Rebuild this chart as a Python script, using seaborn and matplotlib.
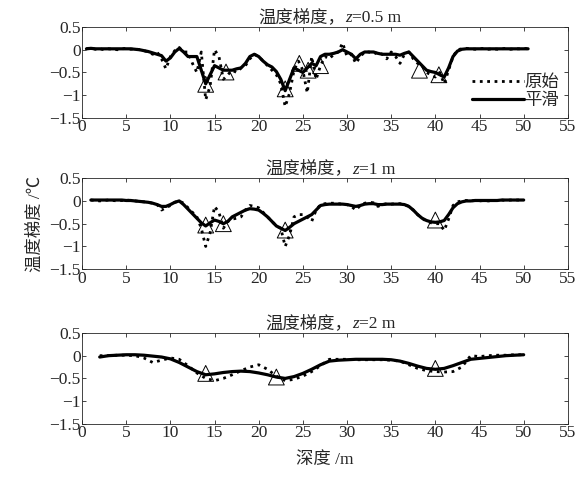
import numpy as np
import pandas as pd
import seaborn as sns
from matplotlib import pyplot as plt

# depth grids (m)
depth_1 = np.arange(0.5, 50.75, 0.5)
depth_2 = np.arange(1.0, 50.25, 0.5)
depth_3 = np.arange(2.0, 50.5, 1.0)

# z = 0.5 m
raw_1 = [0.02, 0.04, 0.01, 0.02, 0.00, 0.02, 0.01, 0.00, 0.02, 0.03,
         0.01, 0.02, 0.00, -0.02, -0.05, -0.10, -0.05, -0.20, -0.42, -0.15,
         -0.02, 0.05, -0.05, -0.05, -0.30, -0.50, -0.05, -1.10, -0.80, 0.00,
         -0.15, -0.65, -0.55, -0.45, -0.50, -0.40, -0.35, -0.20, -0.10, -0.15,
         -0.25, -0.35, -0.45, -0.55, -0.75, -1.25, -0.95, -0.45, -0.25, -0.45,
         -0.95, -0.15, -0.65, -0.35, -0.15, -0.20, -0.10, -0.05, 0.15, -0.15,
         -0.10, -0.30, -0.15, -0.05, -0.05, -0.10, -0.05, -0.10, -0.20, -0.05,
         -0.15, -0.30, -0.10, -0.05, -0.20, -0.30, -0.35, -0.50, -0.55, -0.60,
         -0.50, -0.75, -0.45, -0.15, 0.00, 0.02, 0.03, 0.02, 0.01, 0.02,
         0.03, 0.01, 0.02, 0.01, 0.02, 0.03, 0.01, 0.02, 0.02, 0.03,
         0.02]
smooth_1 = [0.02, 0.03, 0.02, 0.02, 0.02, 0.02, 0.02, 0.02, 0.02, 0.02,
            0.02, 0.01, 0.00, -0.02, -0.04, -0.07, -0.10, -0.13, -0.25, -0.18,
            -0.05, 0.03, -0.05, -0.15, -0.15, -0.15, -0.45, -0.75, -0.55, -0.35,
            -0.40, -0.45, -0.45, -0.45, -0.42, -0.40, -0.30, -0.15, -0.10, -0.15,
            -0.25, -0.33, -0.38, -0.48, -0.65, -0.90, -0.65, -0.40, -0.45, -0.50,
            -0.40, -0.30, -0.35, -0.15, -0.10, -0.10, -0.08, -0.05, 0.00, -0.05,
            -0.10, -0.20, -0.10, -0.05, -0.05, -0.05, -0.08, -0.10, -0.10, -0.10,
            -0.10, -0.12, -0.08, -0.05, -0.15, -0.25, -0.35, -0.45, -0.48, -0.50,
            -0.55, -0.60, -0.40, -0.15, -0.03, 0.01, 0.02, 0.02, 0.02, 0.02,
            0.02, 0.02, 0.02, 0.02, 0.02, 0.02, 0.02, 0.02, 0.02, 0.02,
            0.02]
peak_x_1 = [14, 16.3, 23, 24.6, 25.6, 27, 38.2, 40.4]
peak_y_1 = [-0.76, -0.49, -0.86, -0.30, -0.45, -0.35, -0.45, -0.55]

# z = 1 m
raw_2 = [0.02, 0.01, 0.00, 0.01, 0.02, 0.01, 0.00, 0.01, 0.02, 0.01,
         0.00, -0.01, -0.02, -0.03, -0.05, -0.08, -0.20, -0.15, -0.10, -0.03,
         0.00, -0.05, -0.15, -0.25, -0.35, -0.60, -1.00, -0.70, -0.12, -0.25,
         -0.60, -0.45, -0.40, -0.38, -0.35, -0.20, -0.10, -0.12, -0.15, -0.25,
         -0.35, -0.45, -0.55, -0.60, -1.00, -0.75, -0.35, -0.30, -0.30, -0.35,
         -0.45, -0.20, -0.08, -0.06, -0.05, -0.05, -0.06, -0.07, -0.08, -0.12,
         -0.20, -0.10, -0.05, -0.03, -0.04, -0.12, -0.08, -0.06, -0.07, -0.06,
         -0.06, -0.08, -0.12, -0.20, -0.30, -0.38, -0.45, -0.48, -0.50, -0.50,
         -0.65, -0.40, -0.10, -0.02, 0.00, 0.01, 0.00, 0.01, 0.00, 0.01,
         0.00, 0.01, 0.01, 0.02, 0.01, 0.02, 0.02, 0.02, 0.02]
smooth_2 = [0.02, 0.02, 0.02, 0.02, 0.02, 0.02, 0.02, 0.02, 0.01, 0.01,
            0.00, -0.01, -0.02, -0.03, -0.05, -0.08, -0.12, -0.12, -0.08, -0.03,
            0.00, -0.08, -0.18, -0.28, -0.38, -0.48, -0.55, -0.48, -0.42, -0.45,
            -0.50, -0.45, -0.35, -0.30, -0.25, -0.20, -0.17, -0.18, -0.20, -0.27,
            -0.35, -0.45, -0.55, -0.60, -0.65, -0.58, -0.50, -0.45, -0.40, -0.35,
            -0.30, -0.20, -0.10, -0.08, -0.07, -0.07, -0.07, -0.07, -0.08, -0.10,
            -0.12, -0.10, -0.07, -0.06, -0.06, -0.08, -0.08, -0.07, -0.07, -0.07,
            -0.07, -0.08, -0.12, -0.20, -0.30, -0.38, -0.43, -0.46, -0.47, -0.46,
            -0.43, -0.30, -0.15, -0.06, -0.02, 0.00, 0.00, 0.01, 0.01, 0.01,
            0.01, 0.01, 0.01, 0.02, 0.02, 0.02, 0.02, 0.02, 0.02]
peak_x_2 = [14, 16, 23, 40]
peak_y_2 = [-0.53, -0.50, -0.64, -0.42]

# z = 2 m
raw_3 = [0.00, 0.00, 0.01, 0.01, 0.00, -0.05, -0.15, -0.10, -0.05, -0.08,
         -0.22, -0.38, -0.50, -0.55, -0.50, -0.42, -0.33, -0.25, -0.20, -0.30,
         -0.45, -0.55, -0.52, -0.45, -0.35, -0.22, -0.08, -0.08, -0.08, -0.09,
         -0.09, -0.09, -0.09, -0.10, -0.12, -0.20, -0.28, -0.33, -0.35, -0.36,
         -0.35, -0.25, 0.00, -0.02, 0.00, 0.01, 0.01, 0.02, 0.02]
smooth_3 = [-0.03, 0.00, 0.01, 0.02, 0.02, 0.01, -0.01, -0.03, -0.07, -0.15,
            -0.25, -0.35, -0.42, -0.40, -0.37, -0.35, -0.34, -0.35, -0.38, -0.42,
            -0.47, -0.50, -0.46, -0.39, -0.30, -0.20, -0.12, -0.10, -0.09, -0.08,
            -0.08, -0.08, -0.08, -0.09, -0.12, -0.17, -0.23, -0.28, -0.30, -0.28,
            -0.22, -0.15, -0.08, -0.06, -0.04, -0.02, 0.00, 0.01, 0.02]
peak_x_3 = [14, 22, 40]
peak_y_3 = [-0.39, -0.47, -0.28]

titles = ["0.5", "1", "2"]

sns.set_style("ticks")
plt.rcParams['font.family'] = ['Liberation Serif', 'Noto Sans CJK SC']
plt.rcParams['xtick.direction'] = 'in'
plt.rcParams['ytick.direction'] = 'in'

fs = 12.5
fig = plt.figure(figsize=(5.86, 4.79), dpi=100)
boxes = [[0.140, 0.7537, 0.829, 0.19],
         [0.140, 0.438, 0.829, 0.19],
         [0.140, 0.115, 0.829, 0.19]]

panels = [(depth_1, raw_1, smooth_1, peak_x_1, peak_y_1),
          (depth_2, raw_2, smooth_2, peak_x_2, peak_y_2),
          (depth_3, raw_3, smooth_3, peak_x_3, peak_y_3)]

title_parts = []
for i, (d, raw, smo, px, py) in enumerate(panels):
    ax = fig.add_axes(boxes[i])
    df = pd.DataFrame({'depth': d, 'raw': raw, 'smooth': smo})
    sns.lineplot(x='depth', y='raw', data=df, ax=ax, color='black', linestyle=':',
                 linewidth=2.0, sort=False, estimator=None, label='原始')
    sns.lineplot(x='depth', y='smooth', data=df, ax=ax, color='black', linestyle='-',
                 linewidth=2.3, sort=False, estimator=None, label='平滑')
    sns.scatterplot(x=px, y=py, ax=ax, marker='^', s=130, facecolors='none',
                    edgecolors='black', linewidth=0.7, zorder=3)
    ax.set_xlim(0, 55)
    ax.set_ylim(-1.5, 0.5)
    ax.set_xticks(range(0, 56, 5))
    ax.set_yticks([-1.5, -1, -0.5, 0, 0.5])
    ax.set_yticklabels(['−1.5', '−1', '−0.5', '0', '0.5'])
    ax.tick_params(top=True, right=True, labelsize=fs, length=3, width=0.6, pad=1)
    for sp in ax.spines.values():
        sp.set_linewidth(0.6)
    ax.set_xlabel('')
    ax.set_ylabel('')

    # title: 温度梯度，z=... m  (z in italic)
    t1 = ax.text(0.5, 1.05, '温度梯度，', transform=ax.transAxes, fontsize=fs,
                 ha='left', va='baseline')
    t2 = ax.annotate('z', xy=(1, 0), xycoords=t1, fontsize=fs, style='italic',
                     ha='left', va='bottom')
    t3 = ax.annotate('=' + titles[i] + ' m', xy=(1, 0), xycoords=t2, fontsize=fs,
                     ha='left', va='bottom')
    title_parts.append((ax, t1, t3))

    if i == 0:
        ax.legend(loc='lower right', frameon=False, fontsize=fs, handlelength=3.0,
                  handletextpad=0.0, labelspacing=0.1, borderaxespad=0.1)
    else:
        ax.get_legend().remove()
    if i == 1:
        ax.set_ylabel('温度梯度 /℃', fontsize=fs, labelpad=4)
    if i == 2:
        ax.set_xlabel('深度 /m', fontsize=fs, labelpad=8)

# center each composed title over its axes
fig.canvas.draw()
r = fig.canvas.get_renderer()
for ax, t1, t3 in title_parts:
    b1 = t1.get_window_extent(r)
    b3 = t3.get_window_extent(r)
    width = b3.x1 - b1.x0
    axb = ax.get_window_extent(r)
    x0 = (axb.x0 + axb.x1) / 2 - width / 2 + 5
    xa = (x0 - axb.x0) / axb.width
    t1.set_x(xa)

plt.savefig('out.png', dpi=100)
